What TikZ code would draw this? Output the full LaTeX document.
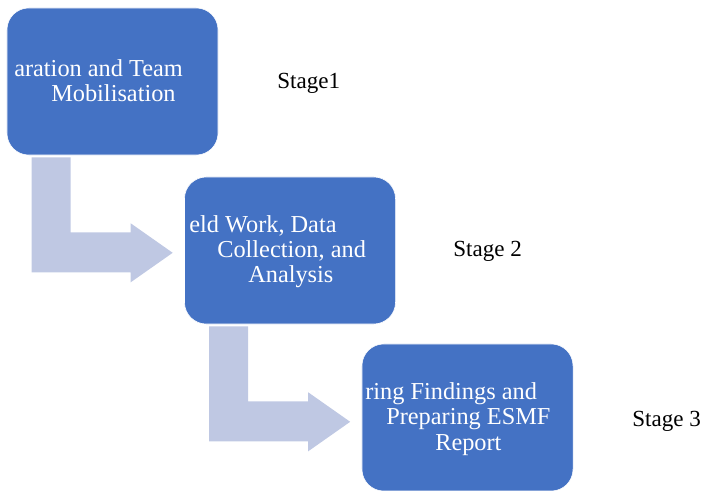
\documentclass[tikz,border=0pt]{standalone}
\usepackage{fontspec}
\setmainfont{Liberation Serif}
\usetikzlibrary{calc, positioning}
\definecolor{boxblue}{HTML}{4472C4}
\definecolor{flowblue}{HTML}{BFC8E3}
\tikzset{
        stagebox/.style={rectangle, draw=white, thin, fill=boxblue, rounded corners=15.5pt, minimum width=5.275cm, minimum height=3.675cm},
        boxtext/.style={anchor=base west, inner sep=0pt, text=white, font=\fontsize{17.3}{19}\selectfont},
        stagelabel/.style={anchor=base west, inner sep=0pt, font=\fontsize{16.4}{18}\selectfont},
        flow/.style={fill=flowblue},
    }
\begin{document}
\begin{tikzpicture}[x=0.025cm, y=-0.025cm]
        \useasboundingbox (0,0) rectangle (704,491);

        % === STAGE BOXES ===
        \node[stagebox] (box1) at (112.5,81.5) {};
        \node[stagebox] (box2) at (290,250.5) {};
        \node[stagebox] (box3) at (467.5,417.5) {};

        % === BENT ARROWS ===
        \fill[flow] ([shift={(25,2)}]box1.south west) -- ++(39,0) -- ++(0,75) -- ++(60,0) -- ++(0,-9)
            -- ++(42,29.5) -- ++(-42,29.5) -- ++(0,-10) -- ++(-99,0) -- cycle;
        \fill[flow] ([shift={(25,2)}]box2.south west) -- ++(39,0) -- ++(0,75) -- ++(60,0) -- ++(0,-9)
            -- ++(42,29.5) -- ++(-42,29.5) -- ++(0,-10) -- ++(-99,0) -- cycle;

        % === BOX TEXT (as printed, cut at the left) ===
        \node[boxtext] (t11) at (14,77) {aration and Team};
        \node[boxtext] (t12) at (51,102) {Mobilisation};
        \node[boxtext] (t21) at (189,233) {eld Work, Data};
        \node[boxtext] (t22) at (217,258) {Collection, and};
        \node[boxtext] (t23) at (248,283) {Analysis};
        \node[boxtext] (t31) at (365,400) {ring Findings and};
        \node[boxtext] (t32) at (386,425) {Preparing ESMF};
        \node[boxtext] (t33) at (435,450) {Report};

        % === STAGE LABELS ===
        \node[stagelabel] (s1) at (277,89) {Stage1};
        \node[stagelabel] (s2) at (453,257) {Stage 2};
        \node[stagelabel] (s3) at (632,426) {Stage 3};

    \end{tikzpicture}
\end{document}
